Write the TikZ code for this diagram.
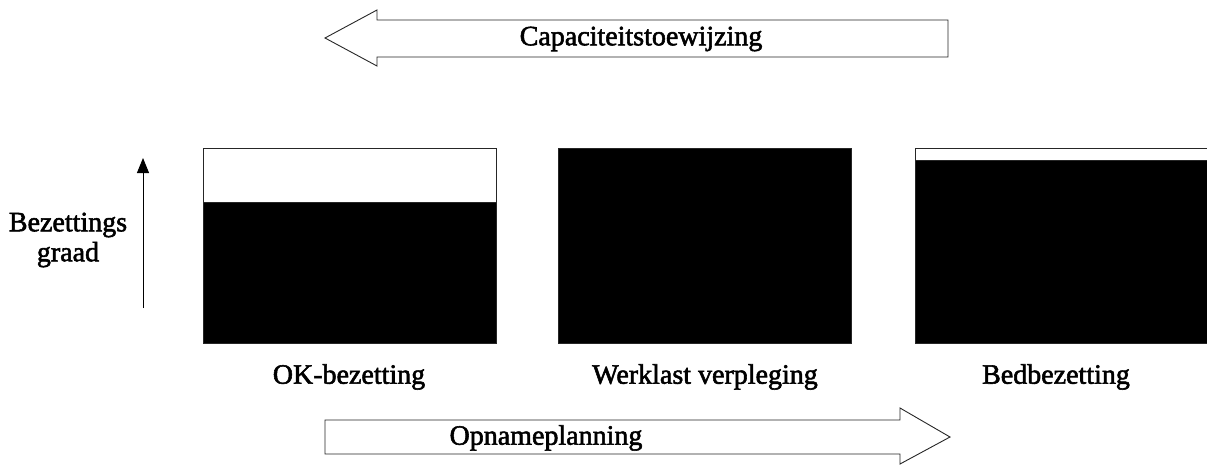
\documentclass[tikz,border=0pt]{standalone}
\usepackage{fontspec}
\setmainfont{Liberation Serif}[FakeBold=2]
\usetikzlibrary{arrows.meta}
\begin{document}
\begin{tikzpicture}[x=1pt,y=-1pt,
  lbl/.style={font=\fontsize{28}{30}\selectfont, inner sep=0pt},
  outline/.style={draw=black!85, line width=0.9pt},
  bar/.style={outline, fill=black}]
\useasboundingbox (0,0) rectangle (1207,464);

% block arrow pointing left: capacity allocation
\draw[outline] (325,38) -- (377,10) -- (377,20) -- (948,20) -- (948,57)
  -- (377,57) -- (377,66) -- cycle;
\node[lbl] (cap) at (641,39) {Capaciteitstoewijzing};

% block arrow pointing right: admission planning
\draw[outline] (325,420) -- (900,420) -- (900,408) -- (950,437)
  -- (900,464) -- (900,454) -- (325,454) -- cycle;
\node[lbl] (opn) at (546,438) {Opnameplanning};

% occupancy axis
\node[lbl, align=center] (bez) at (68,240) {Bezettings\\graad};
\coordinate (axlo) at (143,308);
\coordinate (axhi) at (143,158);
\draw[line width=0.9pt, -{Triangle[length=15pt,width=12pt]}] (axlo) -- (axhi);

% occupancy bars
\draw[outline, fill=white] (203,148) rectangle (496,343);
\fill[bar] (203,202) rectangle (496,343);
\node[lbl] (ok) at (349,377) {OK-bezetting};

\draw[bar] (558,148) rectangle (851,343);
\node[lbl] (wv) at (705,377) {Werklast verpleging};

\draw[outline, fill=white] (915,148) rectangle (1212,343);
\fill[bar] (915,160) rectangle (1212,343);
\node[lbl] (bed) at (1056,377) {Bedbezetting};
\end{tikzpicture}
\end{document}
